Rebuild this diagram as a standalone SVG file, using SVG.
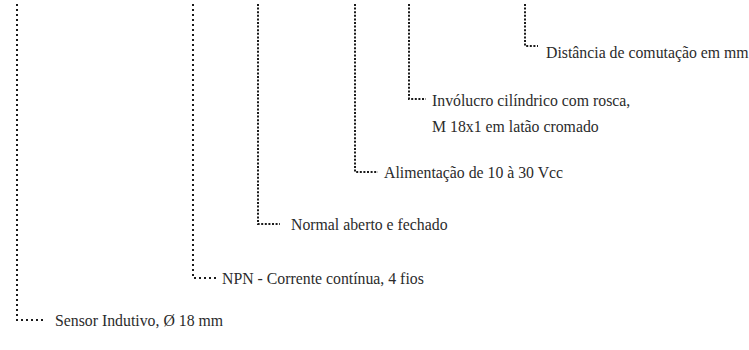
<svg xmlns="http://www.w3.org/2000/svg" width="749" height="350" viewBox="0 0 749 350">
  <style>
    .lead { fill: none; stroke: #1a1a1a; stroke-width: 2; stroke-linecap: butt; }
    .wide { stroke-dasharray: 2 3; }
    .tight { stroke-dasharray: 2 1.6; }
    .lbl { font-family: "Liberation Serif", "DejaVu Serif", serif; font-size: 15.8px; fill: #2b2b2b; }
  </style>
  <rect width="749" height="350" fill="#ffffff"/>
  <g id="connectors">
    <path class="lead wide" d="M17 4 V320 H44"/>
    <path class="lead wide" d="M193 4 V278 H216"/>
    <path class="lead tight" d="M258 4 V224 H280"/>
    <path class="lead tight" d="M355 4 V172 H378"/>
    <path class="lead tight" d="M409 4 V99 H426"/>
    <path class="lead tight" d="M525 4 V46 H538"/>
  </g>
  <g id="n-distancia"><text class="lbl" x="546" y="58">Distância de comutação em mm</text></g>
  <g id="n-involucro">
    <text class="lbl" x="432" y="106">Invólucro cilíndrico com rosca,</text>
    <text class="lbl" x="432" y="132">M 18x1 em latão cromado</text>
  </g>
  <g id="n-alimentacao"><text class="lbl" x="384" y="178">Alimentação de 10 à 30 Vcc</text></g>
  <g id="n-normal"><text class="lbl" x="291" y="230">Normal aberto e fechado</text></g>
  <g id="n-npn"><text class="lbl" x="222" y="284">NPN - Corrente contínua, 4 fios</text></g>
  <g id="n-sensor"><text class="lbl" x="55" y="326">Sensor Indutivo, Ø 18 mm</text></g>
</svg>
